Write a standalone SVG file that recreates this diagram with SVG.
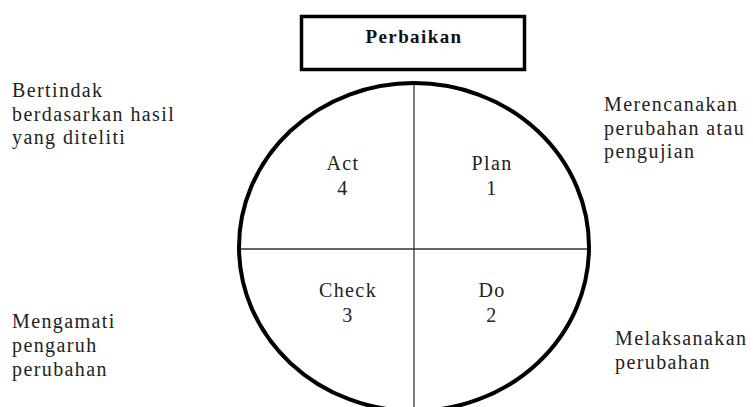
<svg xmlns="http://www.w3.org/2000/svg" width="753" height="407" viewBox="0 0 753 407">
<style>
.t{font-family:"Liberation Serif","DejaVu Serif",serif;font-size:20px;letter-spacing:1.4px;fill:#222}
.c{text-anchor:middle}
.h{font-family:"Liberation Serif","DejaVu Serif",serif;font-size:19px;font-weight:bold;letter-spacing:1.4px;fill:#111;text-anchor:middle}
.ln{stroke:#333;stroke-width:1.3;fill:none}
</style>
<rect width="753" height="407" fill="#fff"/>
<g id="title">
<rect x="301.5" y="16.5" width="223" height="53" fill="#fff" stroke="#000" stroke-width="3.5"/>
<text class="h" x="414" y="43">Perbaikan</text>
</g>
<g id="connectors">
<line class="ln" x1="414" y1="83" x2="414" y2="412"/>
<line class="ln" x1="239" y1="249" x2="589" y2="249"/>
</g>
<g id="cycle">
<ellipse cx="414" cy="247" rx="175" ry="164" fill="none" stroke="#000" stroke-width="4"/>
</g>
<g id="act">
<text class="t c" x="343" y="170">Act</text>
<text class="t c" x="343" y="195">4</text>
</g>
<g id="plan">
<text class="t c" x="492" y="170">Plan</text>
<text class="t c" x="492" y="195">1</text>
</g>
<g id="check">
<text class="t c" x="348" y="297">Check</text>
<text class="t c" x="348" y="322">3</text>
</g>
<g id="do">
<text class="t c" x="492" y="297">Do</text>
<text class="t c" x="492" y="322">2</text>
</g>
<g id="note-act">
<text class="t" x="12" y="97">Bertindak</text>
<text class="t" x="12" y="121">berdasarkan hasil</text>
<text class="t" x="12" y="144">yang diteliti</text>
</g>
<g id="note-plan">
<text class="t" x="604" y="111">Merencanakan</text>
<text class="t" x="604" y="135">perubahan atau</text>
<text class="t" x="604" y="158">pengujian</text>
</g>
<g id="note-check">
<text class="t" x="12" y="328">Mengamati</text>
<text class="t" x="12" y="352">pengaruh</text>
<text class="t" x="12" y="376">perubahan</text>
</g>
<g id="note-do">
<text class="t" x="615" y="345">Melaksanakan</text>
<text class="t" x="615" y="369">perubahan</text>
</g>
</svg>
